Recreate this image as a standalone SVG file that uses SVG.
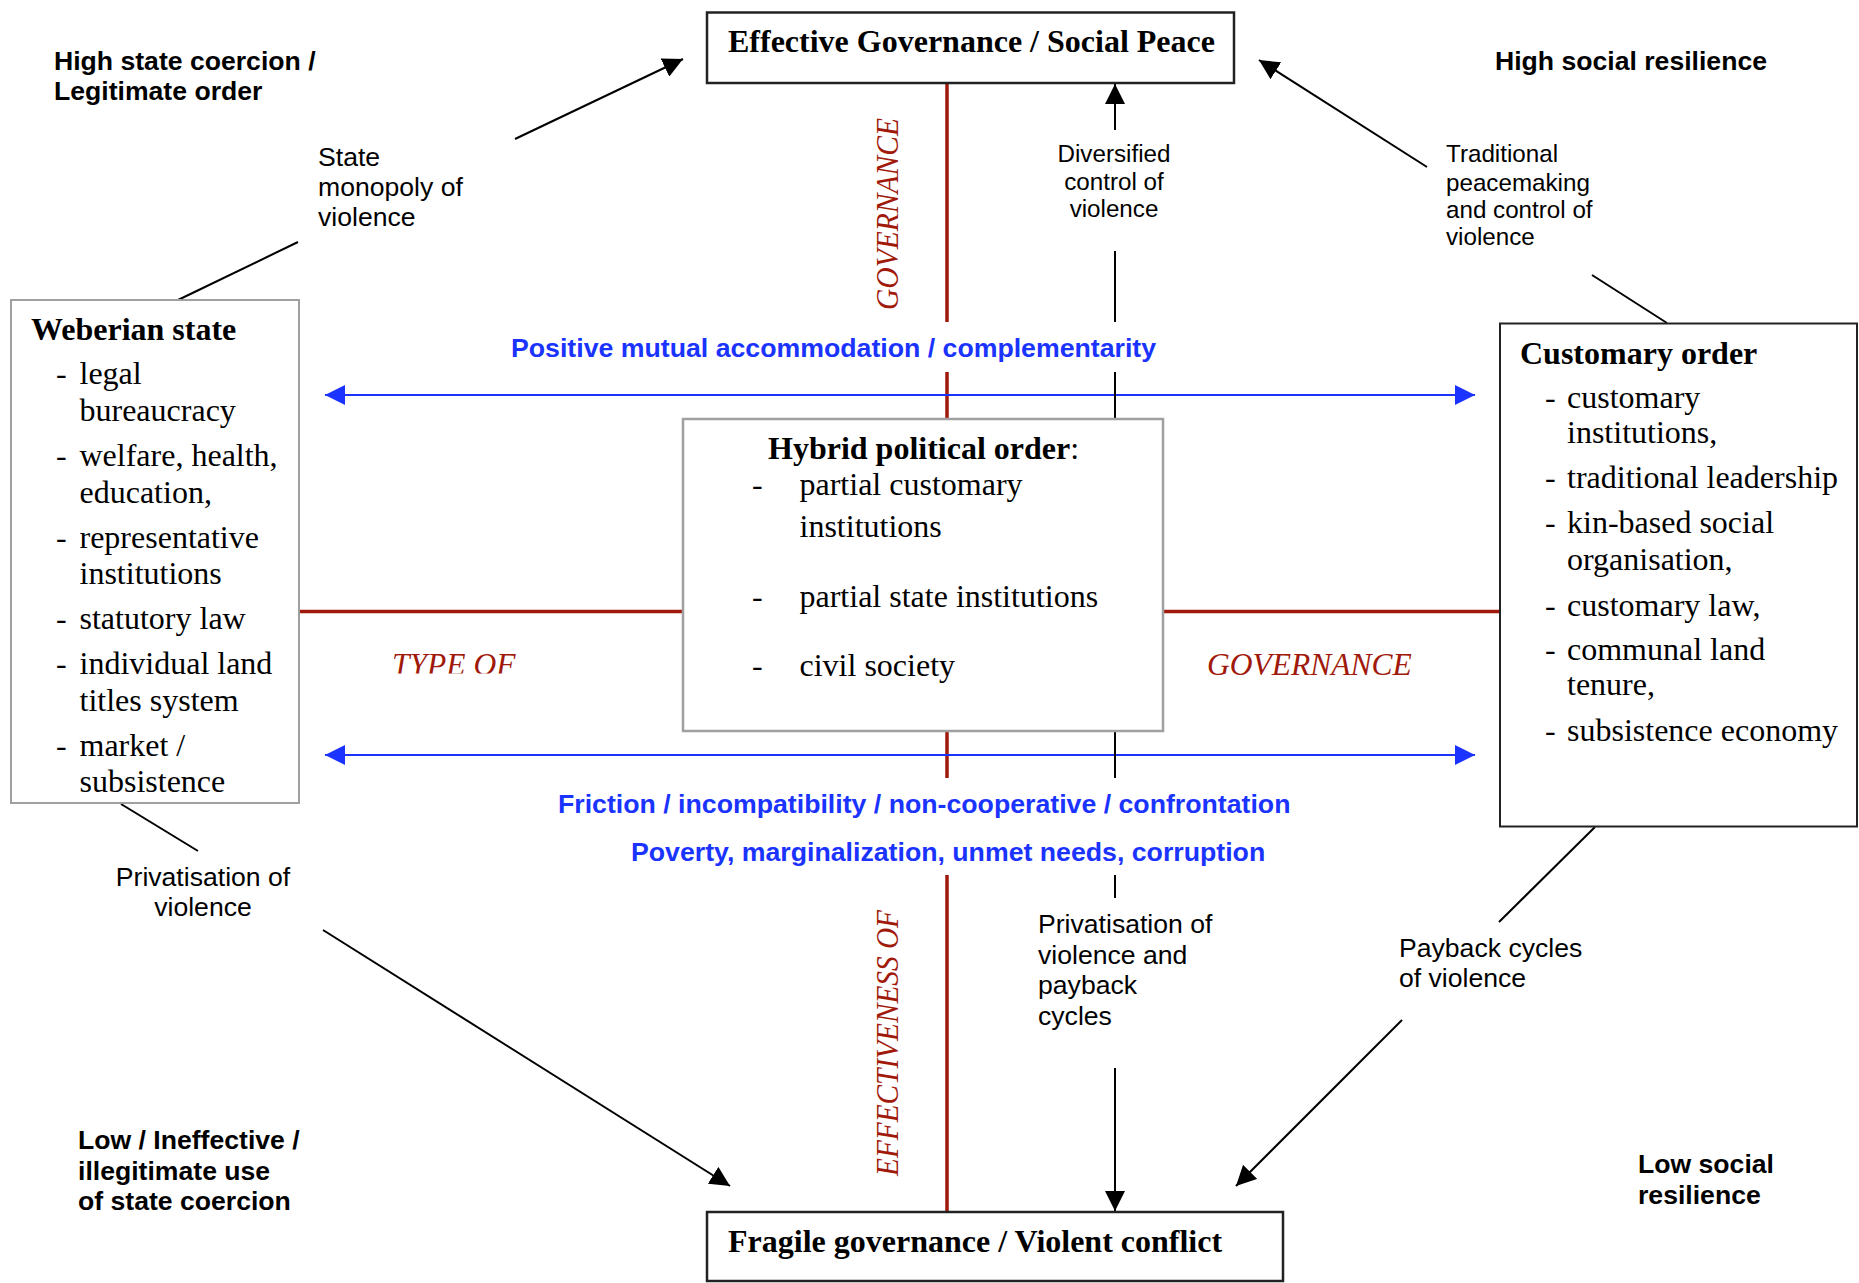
<svg xmlns="http://www.w3.org/2000/svg" width="1859" height="1283" viewBox="0 0 1859 1283">
<style>
.hdr{font-family:"Liberation Sans",Arial,sans-serif;font-weight:bold;font-size:26.6px;fill:#000}
.lbl{font-family:"Liberation Sans",Arial,sans-serif;font-size:26.6px;fill:#000}
.lbs{font-family:"Liberation Sans",Arial,sans-serif;font-size:24.2px;fill:#000}
.blue{font-family:"Liberation Sans",Arial,sans-serif;font-weight:bold;font-size:26.7px;fill:#1A33FF}
.red{font-family:"Liberation Serif","Times New Roman",serif;font-style:italic;font-size:31.5px;fill:#A0190A}
.ttl{font-family:"Liberation Serif","Times New Roman",serif;font-weight:bold;font-size:32px;fill:#000}
.itm{font-family:"Liberation Serif","Times New Roman",serif;font-size:32px;fill:#000}
.conn{stroke:#000;stroke-width:2;fill:none}
.axis{stroke:#A0190A;stroke-width:3.5;fill:none}
.bl{stroke:#1A33FF;stroke-width:2;fill:none}
</style>
<defs>
<marker id="ah" markerUnits="userSpaceOnUse" markerWidth="21" markerHeight="20" refX="20" refY="10" orient="auto">
<path d="M0,0 L20,10 L0,20 z" fill="#000"/>
</marker>
<marker id="bh" markerUnits="userSpaceOnUse" markerWidth="21" markerHeight="20" refX="20" refY="10" orient="auto-start-reverse">
<path d="M0,0 L20,10 L0,20 z" fill="#1A33FF"/>
</marker>
<clipPath id="clipType"><rect x="380" y="630" width="160" height="43.5"/></clipPath>
</defs>
<rect width="1859" height="1283" fill="#fff"/>

<g id="connectors">
<line class="axis" x1="947" y1="83" x2="947" y2="322"/>
<line class="axis" x1="947" y1="372" x2="947" y2="419"/>
<line class="axis" x1="947" y1="731" x2="947" y2="778"/>
<line class="axis" x1="947" y1="875" x2="947" y2="1212"/>
<line class="axis" x1="299" y1="611.5" x2="683" y2="611.5"/>
<line class="axis" x1="1163" y1="611.5" x2="1500" y2="611.5"/>
<line class="bl" x1="325" y1="395" x2="1475" y2="395" marker-start="url(#bh)" marker-end="url(#bh)"/>
<line class="bl" x1="325" y1="755" x2="1475" y2="755" marker-start="url(#bh)" marker-end="url(#bh)"/>
<line class="conn" x1="1115" y1="130" x2="1115" y2="84" marker-end="url(#ah)"/>
<line class="conn" x1="1115" y1="251" x2="1115" y2="322"/>
<line class="conn" x1="1115" y1="372" x2="1115" y2="419"/>
<line class="conn" x1="1115" y1="731" x2="1115" y2="778"/>
<line class="conn" x1="1115" y1="875" x2="1115" y2="898"/>
<line class="conn" x1="1115" y1="1068" x2="1115" y2="1211" marker-end="url(#ah)"/>
<line class="conn" x1="178" y1="300" x2="298" y2="242"/>
<line class="conn" x1="515" y1="139" x2="683" y2="59" marker-end="url(#ah)"/>
<line class="conn" x1="1667" y1="323" x2="1592" y2="275"/>
<line class="conn" x1="1427" y1="167" x2="1259" y2="60" marker-end="url(#ah)"/>
<line class="conn" x1="121" y1="804" x2="198" y2="851"/>
<line class="conn" x1="323" y1="930" x2="730" y2="1186" marker-end="url(#ah)"/>
<line class="conn" x1="1595" y1="827" x2="1499" y2="922"/>
<line class="conn" x1="1402" y1="1020" x2="1236" y2="1186" marker-end="url(#ah)"/>
</g>

<g id="top-node">
<rect x="707" y="12.5" width="527" height="70.5" fill="#fff" stroke="#222" stroke-width="2.5"/>
<text class="ttl" x="728" y="52">Effective Governance / Social Peace</text>
</g>

<g id="bottom-node">
<rect x="707" y="1212" width="576" height="69" fill="#fff" stroke="#222" stroke-width="2.5"/>
<text class="ttl" x="728" y="1252">Fragile governance / Violent conflict</text>
</g>

<g id="weberian-node">
<rect x="11" y="300" width="288" height="503" fill="#fff" stroke="#A0A0A0" stroke-width="2"/>
<text class="ttl" x="31" y="340">Weberian state</text>
<text class="itm">
<tspan x="56" y="384">-</tspan><tspan x="79.5" y="384">legal</tspan>
<tspan x="79.5" y="421">bureaucracy</tspan>
<tspan x="56" y="466">-</tspan><tspan x="79.5" y="466">welfare, health,</tspan>
<tspan x="79.5" y="503">education,</tspan>
<tspan x="56" y="548">-</tspan><tspan x="79.5" y="548">representative</tspan>
<tspan x="79.5" y="584">institutions</tspan>
<tspan x="56" y="629">-</tspan><tspan x="79.5" y="629">statutory law</tspan>
<tspan x="56" y="674">-</tspan><tspan x="79.5" y="674">individual land</tspan>
<tspan x="79.5" y="711">titles system</tspan>
<tspan x="56" y="756">-</tspan><tspan x="79.5" y="756">market /</tspan>
<tspan x="79.5" y="792">subsistence</tspan>
</text>
</g>

<g id="hybrid-node">
<rect x="683" y="419" width="480" height="312" fill="#fff" stroke="#A0A0A0" stroke-width="2.5"/>
<text x="768" y="459"><tspan class="ttl">Hybrid political order</tspan><tspan class="itm">:</tspan></text>
<text class="itm">
<tspan x="752" y="495">-</tspan><tspan x="799.5" y="495">partial customary</tspan>
<tspan x="799.5" y="537">institutions</tspan>
<tspan x="752" y="607">-</tspan><tspan x="799.5" y="607">partial state institutions</tspan>
<tspan x="752" y="676">-</tspan><tspan x="799.5" y="676">civil society</tspan>
</text>
</g>

<g id="customary-node">
<rect x="1500" y="323.5" width="357" height="503" fill="#fff" stroke="#222" stroke-width="2"/>
<text class="ttl" x="1520" y="364">Customary order</text>
<text class="itm">
<tspan x="1545" y="408">-</tspan><tspan x="1567" y="408">customary</tspan>
<tspan x="1567" y="443">institutions,</tspan>
<tspan x="1545" y="488">-</tspan><tspan x="1567" y="488">traditional leadership</tspan>
<tspan x="1545" y="533">-</tspan><tspan x="1567" y="533">kin-based social</tspan>
<tspan x="1567" y="570">organisation,</tspan>
<tspan x="1545" y="616">-</tspan><tspan x="1567" y="616">customary law,</tspan>
<tspan x="1545" y="660">-</tspan><tspan x="1567" y="660">communal land</tspan>
<tspan x="1567" y="695">tenure,</tspan>
<tspan x="1545" y="741">-</tspan><tspan x="1567" y="741">subsistence economy</tspan>
</text>
</g>

<g id="corner-labels">
<text class="hdr"><tspan x="54" y="70">High state coercion /</tspan><tspan x="54" y="100">Legitimate order</tspan></text>
<text class="hdr" x="1495" y="70">High social resilience</text>
<text class="hdr"><tspan x="78" y="1149">Low / Ineffective /</tspan><tspan x="78" y="1180">illegitimate use</tspan><tspan x="78" y="1210">of state coercion</tspan></text>
<text class="hdr"><tspan x="1638" y="1173">Low social</tspan><tspan x="1638" y="1204">resilience</tspan></text>
</g>

<g id="connector-labels">
<text class="lbl"><tspan x="318" y="166">State</tspan><tspan x="318" y="196">monopoly of</tspan><tspan x="318" y="226">violence</tspan></text>
<text class="lbs" text-anchor="middle"><tspan x="1114" y="162">Diversified</tspan><tspan x="1114" y="190">control of</tspan><tspan x="1114" y="217">violence</tspan></text>
<text class="lbs"><tspan x="1446" y="162">Traditional</tspan><tspan x="1446" y="191">peacemaking</tspan><tspan x="1446" y="218">and control of</tspan><tspan x="1446" y="245">violence</tspan></text>
<text class="lbl" text-anchor="middle"><tspan x="203" y="886">Privatisation of</tspan><tspan x="203" y="916">violence</tspan></text>
<text class="lbl"><tspan x="1038" y="933">Privatisation of</tspan><tspan x="1038" y="964">violence and</tspan><tspan x="1038" y="994">payback</tspan><tspan x="1038" y="1025">cycles</tspan></text>
<text class="lbl"><tspan x="1399" y="957">Payback cycles</tspan><tspan x="1399" y="987">of violence</tspan></text>
</g>

<g id="relation-labels">
<text class="blue" x="511" y="357">Positive mutual accommodation / complementarity</text>
<text class="blue" x="558" y="813">Friction / incompatibility / non-cooperative / confrontation</text>
<text class="blue" x="631" y="861">Poverty, marginalization, unmet needs, corruption</text>
</g>

<g id="axis-labels">
<text class="red" transform="translate(898,310) rotate(-90)" textLength="192" lengthAdjust="spacingAndGlyphs">GOVERNANCE</text>
<text class="red" transform="translate(898,1176) rotate(-90)" textLength="266" lengthAdjust="spacingAndGlyphs">EFFECTIVENESS OF</text>
<text class="red" x="392" y="675" clip-path="url(#clipType)">TYPE OF</text>
<text class="red" x="1207" y="675">GOVERNANCE</text>
</g>
</svg>
